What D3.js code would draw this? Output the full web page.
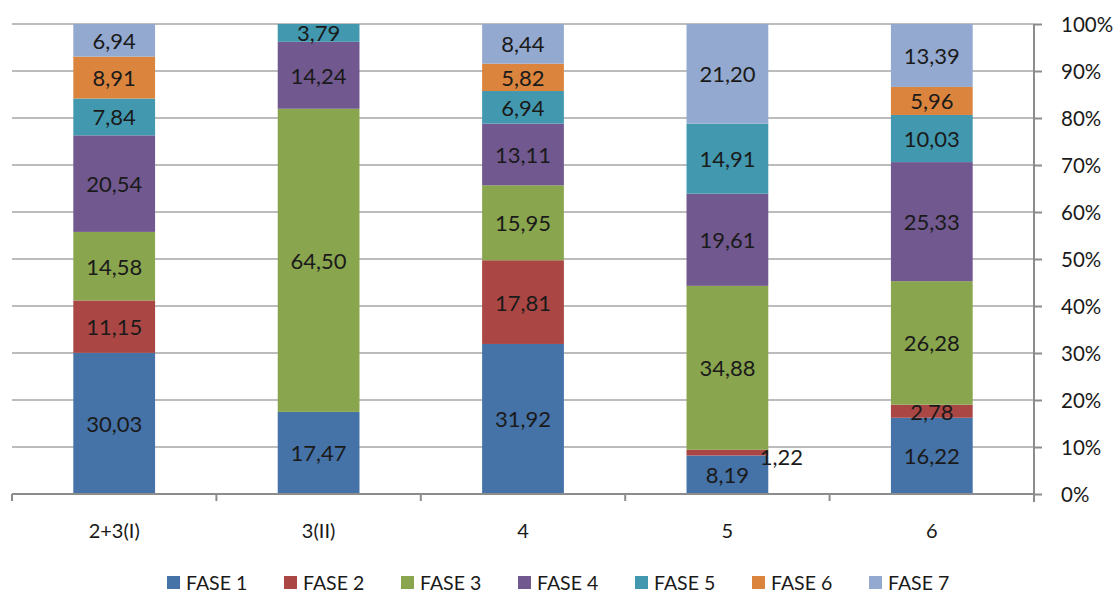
<!DOCTYPE html>
<html><head><meta charset="utf-8">
<script src="https://cdn.jsdelivr.net/npm/d3@7"></script>
<style>body{margin:0;background:#fff;}svg{display:block;}text{font-family:Lato,"Open Sans",sans-serif;}</style>
</head><body>
<svg id="c" width="1120" height="594"></svg>
<script>
const categories = ["2+3(I)", "3(II)", "4", "5", "6"];
const seriesNames = ["FASE 1", "FASE 2", "FASE 3", "FASE 4", "FASE 5", "FASE 6", "FASE 7"];
const fase1 = [30.03, 17.47, 31.92, 8.19, 16.22];
const fase2 = [11.15, 0, 17.81, 1.22, 2.78];
const fase3 = [14.58, 64.50, 15.95, 34.88, 26.28];
const fase4 = [20.54, 14.24, 13.11, 19.61, 25.33];
const fase5 = [7.84, 3.79, 6.94, 14.91, 10.03];
const fase6 = [8.91, 0, 5.82, 0, 5.96];
const fase7 = [6.94, 0, 8.44, 21.20, 13.39];
const tickValues = [0, 0.1, 0.2, 0.3, 0.4, 0.5, 0.6, 0.7, 0.8, 0.9, 1.0];
const colors = ["#4572A7", "#AA4643", "#89A54E", "#71588F", "#4198AF", "#DB843D", "#93A9CF"];

const seriesVals = [fase1, fase2, fase3, fase4, fase5, fase6, fase7];
const rows = categories.map((c, i) => {
  const r = {cat: c};
  const total = d3.sum(seriesVals, s => s[i]);
  seriesNames.forEach((n, k) => { r[n] = seriesVals[k][i] / total; r[n + "_raw"] = seriesVals[k][i]; });
  return r;
});

const svg = d3.select("#c");
const L = 12, R = 1034, T = 24, B = 494;
const x = d3.scaleBand().domain(categories).range([L, R]).paddingInner(0.6).paddingOuter(0.3);
const y = d3.scaleLinear().domain([0, 1]).range([B, T]);

// gridlines
svg.append("g").selectAll("line").data(tickValues.slice(1)).join("line")
  .attr("x1", L).attr("x2", R).attr("y1", d => y(d)).attr("y2", d => y(d))
  .attr("stroke", "#a6a6a6").attr("stroke-width", 1.5);

const stack = d3.stack().keys(seriesNames);
const stacked = stack(rows);
const fmt = v => d3.format(".2f")(v).replace(".", ",");

const g = svg.append("g");
stacked.forEach((layer, k) => {
  g.append("g").selectAll("rect").data(layer).join("rect")
    .attr("x", d => x(d.data.cat)).attr("width", x.bandwidth())
    .attr("y", d => y(d[1])).attr("height", d => y(d[0]) - y(d[1]))
    .attr("fill", colors[k]);
});
const lg = svg.append("g");
stacked.forEach((layer, k) => {
  lg.append("g").selectAll("text").data(layer.filter(d => d.data[seriesNames[k] + "_raw"] > 0)).join("text")
    .attr("x", d => {
      const raw = d.data[seriesNames[k] + "_raw"];
      return raw < 2 ? x(d.data.cat) + x.bandwidth() + 13 : x(d.data.cat) + x.bandwidth() / 2;
    })
    .attr("y", d => {
      const raw = d.data[seriesNames[k] + "_raw"];
      return (y(d[0]) + y(d[1])) / 2 + (raw < 2 ? 4 : 0);
    })
    .attr("text-anchor", "middle").attr("dominant-baseline", "central")
    .attr("font-size", 22).attr("fill", "#1a1a1a")
    .text(d => fmt(d.data[seriesNames[k] + "_raw"]));
});

// x axis
const xa = svg.append("g");
xa.append("line").attr("x1", L).attr("x2", R).attr("y1", B).attr("y2", B).attr("stroke", "#8c8c8c").attr("stroke-width", 2);
const step = (R - L) / categories.length;
xa.selectAll("line.t").data(d3.range(categories.length + 1)).join("line").attr("class", "t")
  .attr("x1", i => L + i * step).attr("x2", i => L + i * step).attr("y1", B).attr("y2", B + 7)
  .attr("stroke", "#8c8c8c").attr("stroke-width", 2);
xa.selectAll("text").data(categories).join("text")
  .attr("x", d => x(d) + x.bandwidth() / 2).attr("y", 530)
  .attr("text-anchor", "middle").attr("dominant-baseline", "central")
  .attr("font-size", 20).attr("fill", "#1a1a1a").text(d => d);

// right y axis
const ya = svg.append("g").attr("transform", `translate(${R},0)`)
  .call(d3.axisRight(y).tickValues(tickValues).tickFormat(d3.format(".0%")).tickSize(8).tickPadding(19));
ya.select(".domain").attr("stroke", "#8c8c8c").attr("stroke-width", 2).attr("d", `M0,${T}V${B + 8}`);
ya.selectAll(".tick line").attr("stroke", "#8c8c8c").attr("stroke-width", 2);
ya.selectAll(".tick text").attr("font-size", 20.5).attr("fill", "#1a1a1a").attr("font-family", "Lato,'Open Sans',sans-serif").attr("dy", "0.35em");

// legend
const leg = svg.append("g");
const legX = d3.scaleLinear().domain([0, 6]).range([167, 869]);
seriesNames.forEach((n, k) => {
  const gx = legX(k);
  leg.append("rect").attr("x", gx).attr("y", 576).attr("width", 13).attr("height", 13).attr("fill", colors[k]);
  leg.append("text").attr("x", gx + 19).attr("y", 582.5).attr("dominant-baseline", "central")
    .attr("font-size", 19.5).attr("fill", "#1a1a1a").text(n);
});
</script>
</body></html>
